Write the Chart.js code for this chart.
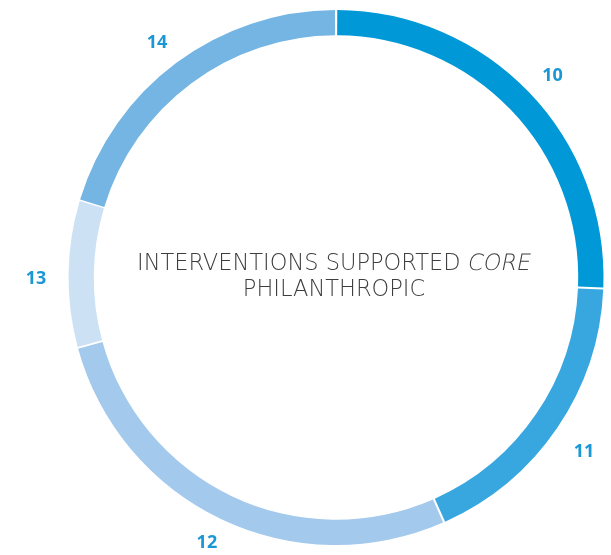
<!DOCTYPE html>
<html>
<head>
<meta charset="utf-8">
<script src="https://cdn.jsdelivr.net/npm/chart.js@4"></script>
<style>
  html, body { margin: 0; padding: 0; background: #fff; }
  canvas { display: block; }
</style>
</head>
<body>
<canvas id="ring" width="611" height="555"></canvas>
<script>
const categories = ['10', '11', '12', '13', '14'];
const values = [29, 20, 31, 10, 23];
const colors = ['#0098d6', '#38a7df', '#a3c9ec', '#cde1f5', '#74b5e3'];
const titleLine1 = 'INTERVENTIONS SUPPORTED ';
const titleItalic = 'CORE';
const titleLine2 = 'PHILANTHROPIC';

// labels outside each arc, at its mid angle
const outerLabels = {
  id: 'outerLabels',
  afterDatasetsDraw(chart) {
    const ctx = chart.ctx;
    const meta = chart.getDatasetMeta(0);
    ctx.save();
    ctx.font = 'bold 18px "Open Sans"';
    ctx.fillStyle = '#1a98d5';
    ctx.textAlign = 'center';
    ctx.textBaseline = 'middle';
    meta.data.forEach((arc, i) => {
      const p = arc.getProps(['x', 'y', 'startAngle', 'endAngle', 'outerRadius'], true);
      const mid = (p.startAngle + p.endAngle) / 2;
      const r = p.outerRadius + 34;
      const y = Math.min(p.y + Math.sin(mid) * r + 6, chart.height - 12);
      ctx.fillText(categories[i], p.x + Math.cos(mid) * r, y);
    });
    ctx.restore();
  }
};

const centerText = {
  id: 'centerText',
  afterDatasetsDraw(chart) {
    const ctx = chart.ctx;
    const arc = chart.getDatasetMeta(0).data[0];
    const cx = arc.x - 2, cy = arc.y;
    ctx.save();
    ctx.fillStyle = '#3e3e40';
    ctx.textBaseline = 'middle';
    ctx.font = '200 22.5px "DejaVu Sans"';
    const w1 = ctx.measureText(titleLine1).width;
    const w2 = ctx.measureText(titleItalic).width;
    const x = cx - (w1 + w2) / 2;
    const y1 = cy - 13;
    ctx.textAlign = 'left';
    ctx.fillText(titleLine1, x, y1);
    // slanted copy of the light face for the italic word
    ctx.save();
    ctx.translate(x + w1, y1);
    ctx.transform(1, 0, -0.2, 1, 0, 0);
    ctx.fillText(titleItalic, 0, 0);
    ctx.restore();
    ctx.textAlign = 'center';
    ctx.fillText(titleLine2, cx, cy + 13);
    ctx.restore();
  }
};

new Chart(document.getElementById('ring'), {
  type: 'doughnut',
  data: {
    labels: categories,
    datasets: [{
      data: values,
      backgroundColor: colors,
      borderWidth: 0,
      spacing: 3
    }]
  },
  options: {
    responsive: false,
    maintainAspectRatio: false,
    animation: false,
    cutout: '90.5%',
    layout: { padding: { top: 10, bottom: 10, left: 66, right: 5 } },
    plugins: {
      legend: { display: false },
      tooltip: { enabled: false }
    }
  },
  plugins: [outerLabels, centerText]
});
</script>
</body>
</html>
